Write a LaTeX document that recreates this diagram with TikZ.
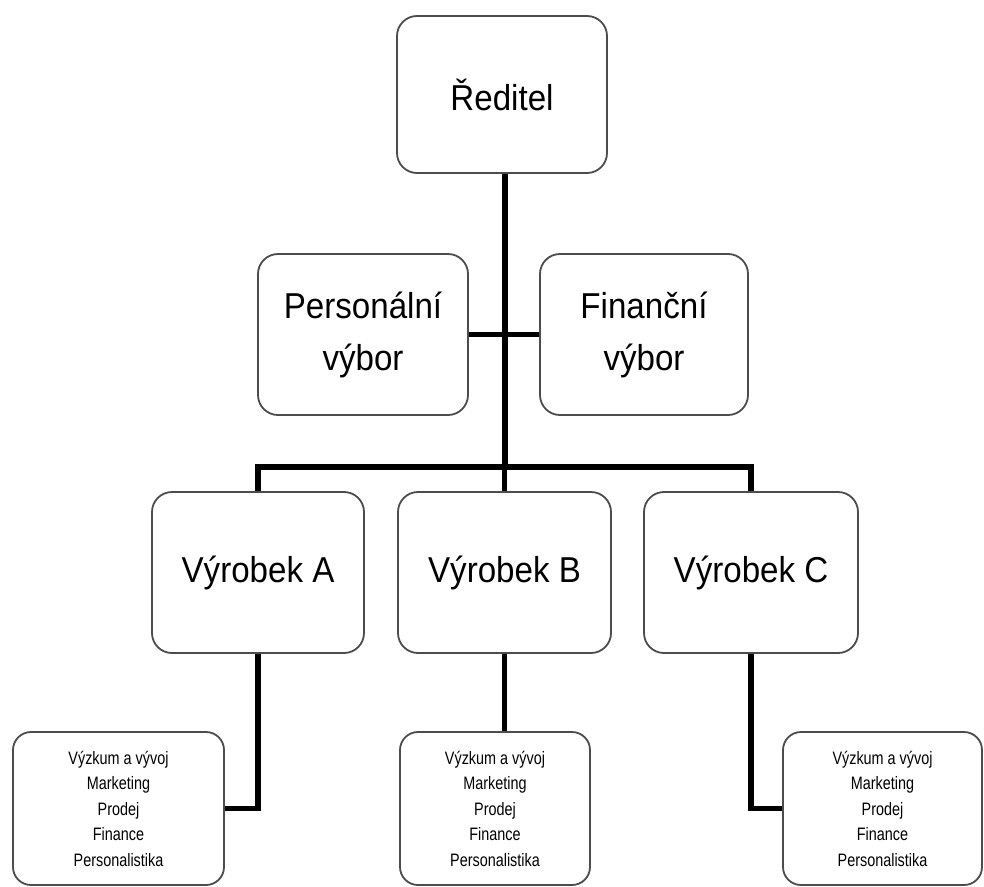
\documentclass[tikz,border=0pt]{standalone}
\usepackage{fontspec}
\setmainfont{Liberation Sans}
\newfontfamily\boxfont[FakeStretch=0.92]{Liberation Sans}
\newfontfamily\listfont[FakeStretch=0.8]{Liberation Sans}
\begin{document}
\begin{tikzpicture}[x=1pt,y=-1pt,
  unit/.style={draw=black!70, line width=1.8pt, rounded corners=20pt, fill=white,
    align=center, inner sep=0pt,
    font=\boxfont\fontsize{36}{52}\selectfont},
  dept/.style={draw=black!70, line width=1.8pt, rounded corners=18pt, fill=white,
    align=center, inner sep=0pt,
    font=\listfont\fontsize{18}{25.5}\selectfont},
  link/.style={line width=5.5pt, black}]
\useasboundingbox[fill=white] (0,0) rectangle (984,886);

% top level
\node[unit, minimum width=210pt, minimum height=157pt] (red) at (502,94.5) {Ředitel};

% committees
\node[unit, minimum width=210pt, minimum height=161pt] (pers) at (363,334.5) {Personální\\výbor};
\node[unit, minimum width=208pt, minimum height=161pt] (fin) at (644,334.5) {Finanční\\výbor};

% products
\node[unit, minimum width=212pt, minimum height=161pt] (vA) at (258,572.5) {Výrobek A};
\node[unit, minimum width=213pt, minimum height=161pt] (vB) at (504.5,572.5) {Výrobek B};
\node[unit, minimum width=214pt, minimum height=161pt] (vC) at (751,572.5) {Výrobek C};

% departments
\node[dept, minimum width=211pt, minimum height=153pt] (dA) at (118.5,808.5)
  {Výzkum a vývoj\\Marketing\\Prodej\\Finance\\Personalistika};
\node[dept, minimum width=190pt, minimum height=153pt] (dB) at (495,808.5)
  {Výzkum a vývoj\\Marketing\\Prodej\\Finance\\Personalistika};
\node[dept, minimum width=199pt, minimum height=153pt] (dC) at (882.5,808.5)
  {Výzkum a vývoj\\Marketing\\Prodej\\Finance\\Personalistika};

% connectors
\coordinate (bus) at (505,467);
\draw[link] (pers.east) -- (fin.west);
\draw[link] (red.south -| bus) -- (bus);
\draw[link] ([xshift=-2.75pt]vA.north |- bus) -- ([xshift=2.75pt]vC.north |- bus);
\draw[link] (vA.north |- bus) -- (vA.north);
\draw[link] (vB.north |- bus) -- (vB.north);
\draw[link] (vC.north |- bus) -- (vC.north);
\draw[link] (vA.south) |- (dA.east);
\draw[link] (vB.south) -- (vB.south |- dB.north);
\draw[link] (vC.south) |- (dC.west);
\end{tikzpicture}
\end{document}
